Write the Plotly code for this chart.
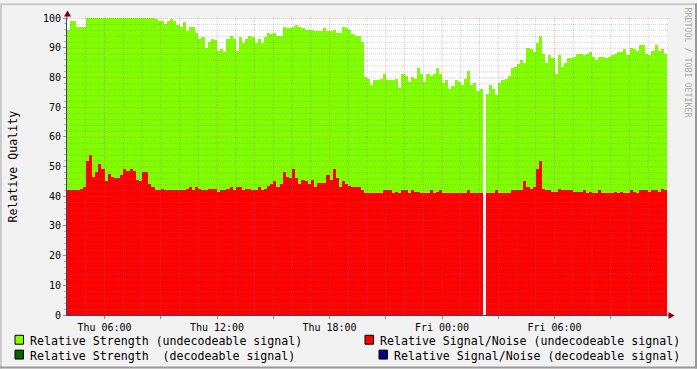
import plotly.graph_objects as go
import pandas as pd

# ---------------- data ----------------
start_time = "2000-01-06 04:00"   # a Thursday
n_samples = 192                   # 10-minute samples, Thu 04:00 .. Fri 12:00
sample_minutes = 10

strength_undecodeable = [
    96, 99, 99, 97, 97, 97,
    100, 100, 100, 100, 100, 100, 100, 100, 100, 100, 100,
    100, 100, 100, 100, 100, 100, 100, 100, 100, 100, 100,
    99.5, 99, 99, 98, 99, 99.5, 99, 97.5, 97, 98.5, 95.5, 97, 97, 95, 93, 93.5,
    90, 92, 93, 92.5, 89, 89.5, 88.5, 93, 94, 93, 89, 93.5, 91.5, 93, 94, 93.5,
    91.5, 93, 91.5, 93.5,
    95, 94.5, 95, 94, 94, 97, 96.5, 96.5, 97, 97.5, 97, 96.5, 96, 96, 96,
    95.5, 95.5, 95.5, 96.5, 95.5, 95.5, 96, 95, 95, 97, 96.5, 96, 94.5, 94, 94, 92,
    80, 79.5, 77.5, 79, 79, 79.5, 81, 79, 79, 79, 79.5, 76.5, 81, 80.5, 78.5,
    80, 79.5, 83, 81, 78.5, 81, 80.5, 81, 83, 81, 78, 79, 76, 77, 79, 78.5, 77.5, 79.5,
    82, 77.5, 78, 75.5, 76, None,
    74.5, 77.5, 76, 74, 78, 79, 79.5, 80.5, 83, 83.5, 84.5, 86, 85, 90, 89.5,
    88.5, 91.5, 94, 88, 85, 87.5, 86.5, 81, 87.5, 83.5, 85, 86.5, 86.5, 87, 88,
    88, 87.5, 88, 88.5, 87, 86, 87, 87, 86.5, 87, 87.5, 88, 88.5, 88.5, 89.5,
    87.5, 90, 89.5, 89, 91, 91, 88, 87.5, 89, 91, 89, 89.5, 88,
]

snr_undecodeable = [
    42, 42, 42, 42, 42.5, 43,
    51.7, 54, 46.5, 48, 51, 49, 45, 47.5, 46.5, 46, 46, 47, 49, 48.5, 49,
    48.5, 45.5, 45, 48, 48, 44, 43, 42.2, 42.2, 42.5,
    42, 42, 42, 42, 42, 42, 42, 42.5, 43, 42, 43, 42.5, 42, 42, 42.5, 42.5, 42.5,
    41.5, 42, 42, 42.5, 43, 42, 43, 43, 42, 42.5, 42.5, 42, 42, 43, 42, 42.5,
    43.5, 44, 45, 43, 44, 48, 46.5, 46, 49, 46, 44, 45.5, 45, 44.2, 45.5,
    43, 44.5, 44.5, 44.5, 47, 45.5, 49, 46, 43, 45, 44, 43.5, 43, 43, 43, 42,
    41, 41, 41, 41, 41, 41, 42, 42, 42, 41, 41.5, 41, 42, 42, 41,
    42, 41.5, 41.5, 41, 41, 41, 42, 41, 41.5, 42, 41, 41, 41, 41, 41, 41, 41, 41,
    42, 41, 41, 41, 41, None,
    41, 41, 41, 42, 41, 41, 41, 41, 42, 42, 42, 42, 45, 43, 42.5,
    43, 49, 52, 42.5, 42, 42, 41.5, 41.5, 42.5, 42, 42, 42, 42, 41.5, 41.5,
    41.5, 42, 41, 41.5, 41, 41, 42, 41, 41, 41, 41, 41.5, 41, 41.5, 41,
    41, 42, 41.5, 41, 42, 42, 42, 41.5, 42, 42, 41.5, 42.5, 42,
]

tick_times = [
    "2000-01-06 06:00", "2000-01-06 09:00", "2000-01-06 12:00",
    "2000-01-06 15:00", "2000-01-06 18:00", "2000-01-06 21:00",
    "2000-01-07 00:00", "2000-01-07 03:00", "2000-01-07 06:00",
    "2000-01-07 09:00",
]
tick_labels = [
    "Thu 06:00", "", "Thu 12:00", "", "Thu 18:00", "",
    "Fri 00:00", "", "Fri 06:00", "",
]
y_ticks = [0, 10, 20, 30, 40, 50, 60, 70, 80, 90, 100]

legend_labels = [
    "Relative Strength (undecodeable signal)",
    "Relative Signal/Noise (undecodeable signal)",
    "Relative Strength  (decodeable signal)",
    "Relative Signal/Noise (decodeable signal)",
]
legend_colors = ["#80FF00", "#FF0000", "#006400", "#000080"]

# ---------------- figure ----------------
times = pd.date_range(start_time, periods=n_samples, freq=f"{sample_minutes}min")
t_end = times[0] + pd.Timedelta(hours=32)
bar_w = sample_minutes * 60 * 1000

GREEN, RED = legend_colors[0], legend_colors[1]
MONO = "DejaVu Sans Mono"

fig = go.Figure()
fig.add_trace(go.Bar(x=times, y=strength_undecodeable, width=bar_w, offset=0,
                     marker=dict(color=GREEN, line=dict(width=0)),
                     name=legend_labels[0], showlegend=False))
fig.add_trace(go.Bar(x=times, y=snr_undecodeable, width=bar_w, offset=0,
                     marker=dict(color=RED, line=dict(width=0)),
                     name=legend_labels[1], showlegend=False))

W, H = 697, 369
L, R, T, B = 67, 30, 15, 54
PW, PH = W - L - R, H - T - B


def px(x):
    return (x - L) / PW


def py(y):
    return (T + PH - y) / PH


shapes = []
minor_col = "rgba(120,120,120,0.33)"
major_col = "rgba(230,70,70,0.38)"
half = 0.5 / (PH / 100.0)
for v in range(2, 101, 2):
    shapes.append(dict(type="line", xref="paper", yref="y", x0=0, x1=1.002,
                       y0=v - half, y1=v - half, layer="above",
                       line=dict(color=major_col if v % 10 == 0 else minor_col,
                                 width=1, dash="1px,1px")))
for h in range(1, 32):
    t = times[0] + pd.Timedelta(hours=h)
    major = t.hour % 6 == 0
    shapes.append(dict(type="line", xref="x", yref="paper", x0=t, x1=t,
                       y0=0, y1=1.005, layer="above",
                       line=dict(color=major_col if major else minor_col,
                                 width=1, dash="1px,1px")))

AXIS = "#40406a"
ARROW = "#7f0000"
# axis extensions + arrows
shapes.append(dict(type="line", xref="paper", yref="paper", x0=px(67), x1=px(67),
                   y0=1, y1=py(11), line=dict(color=AXIS, width=1), layer="above"))
shapes.append(dict(type="line", xref="paper", yref="paper", x0=1, x1=px(670),
                   y0=0, y1=0, line=dict(color=AXIS, width=1), layer="above"))
shapes.append(dict(type="path", xref="paper", yref="paper",
                   path=f"M {px(67.5)} {py(7.5)} L {px(64)} {py(13.5)} L {px(71)} {py(13.5)} Z",
                   fillcolor=ARROW, line=dict(width=0), layer="above"))
shapes.append(dict(type="path", xref="paper", yref="paper",
                   path=f"M {px(674.5)} {py(315.5)} L {px(668.5)} {py(312)} L {px(668.5)} {py(319)} Z",
                   fillcolor=ARROW, line=dict(width=0), layer="above"))
# image frame
shapes.append(dict(type="rect", xref="paper", yref="paper", x0=px(0), x1=px(2),
                   y0=py(0), y1=py(369), fillcolor="#cbcbcb", line=dict(width=0)))
shapes.append(dict(type="rect", xref="paper", yref="paper", x0=px(0), x1=px(697),
                   y0=py(0), y1=py(2), fillcolor="#cbcbcb", line=dict(width=0)))
shapes.append(dict(type="rect", xref="paper", yref="paper", x0=px(695), x1=px(697),
                   y0=py(0), y1=py(369), fillcolor="#999999", line=dict(width=0)))
shapes.append(dict(type="rect", xref="paper", yref="paper", x0=px(0), x1=px(697),
                   y0=py(367), y1=py(369), fillcolor="#999999", line=dict(width=0)))

annotations = []
# legend
leg_pos = [(15, 30, 340), (365, 380, 340), (15, 30, 355), (379, 394, 355)]
for (bx, tx, cy), lab, col in zip(leg_pos, legend_labels, legend_colors):
    shapes.append(dict(type="rect", xref="paper", yref="paper",
                       x0=px(bx), x1=px(bx + 8.5), y0=py(cy - 4.5), y1=py(cy + 4.5),
                       fillcolor=col, line=dict(color="#000000", width=1)))
    annotations.append(dict(text=lab, xref="paper", yref="paper", x=px(tx), y=py(cy + 1),
                            xanchor="left", yanchor="middle", showarrow=False,
                            borderpad=0, borderwidth=0,
                            font=dict(family=MONO, size=11.6, color="#000000")))
annotations.append(dict(text="Relative Quality", xref="paper", yref="paper",
                        x=px(12), y=py(165), textangle=-90, showarrow=False,
                        xanchor="center", yanchor="middle",
                        font=dict(family=MONO, size=11.6, color="#000000")))
annotations.append(dict(text="RRDTOOL / TOBI OETIKER", xref="paper", yref="paper",
                        x=px(688), y=py(60), textangle=90, showarrow=False,
                        xanchor="center", yanchor="middle",
                        font=dict(family=MONO, size=8.3, color="#aaaaaa")))

fig.update_layout(
    width=W, height=H,
    margin=dict(l=L, r=R, t=T, b=B, pad=0),
    paper_bgcolor="#f2f2f2", plot_bgcolor="#ffffff",
    barmode="overlay", bargap=0,
    showlegend=False,
    shapes=shapes, annotations=annotations,
    xaxis=dict(type="date", range=[times[0], t_end], showgrid=False, zeroline=False,
               tickmode="array", tickvals=tick_times, ticktext=tick_labels,
               ticks="outside", ticklen=3, tickcolor="#d07070", tickwidth=1,
               showline=True, linecolor=AXIS, linewidth=1,
               tickfont=dict(family=MONO, size=10, color="#000000")),
    yaxis=dict(range=[0, 100], showgrid=False, zeroline=False,
               tickmode="array", tickvals=y_ticks, ticktext=[str(v) for v in y_ticks],
               ticks="outside", ticklen=3, tickcolor="#909090", tickwidth=1,
               minor=dict(dtick=2, ticks="outside", ticklen=2, tickcolor="#b0b0b0",
                          showgrid=False),
               showline=True, linecolor=AXIS, linewidth=1,
               tickfont=dict(family=MONO, size=10, color="#000000")),
)

fig.write_html("out.html")
